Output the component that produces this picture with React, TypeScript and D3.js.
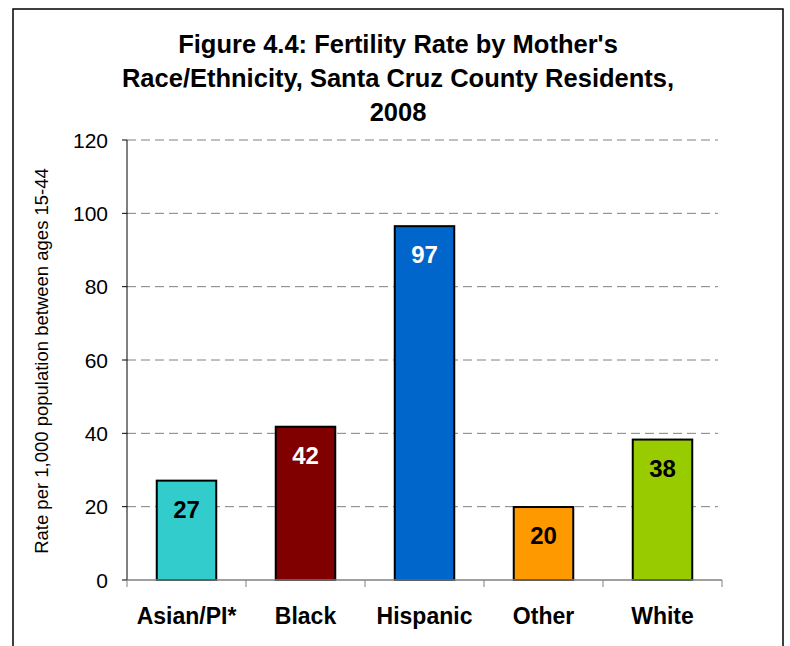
import React from 'react';
import * as d3 from 'd3';

const categories = ['Asian/PI*', 'Black', 'Hispanic', 'Other', 'White'];
const rates = [27.1, 41.8, 96.5, 19.9, 38.3];
const rateLabels = ['27', '42', '97', '20', '38'];
const barColors = ['#33CCCC', '#800000', '#0066CC', '#FF9900', '#99CC00'];
const labelColors = ['#000', '#fff', '#fff', '#000', '#000'];
const yTicks = [0, 20, 40, 60, 80, 100, 120];
const titleLines = [
  "Figure 4.4: Fertility Rate by Mother's",
  'Race/Ethnicity, Santa Cruz County Residents,',
  '2008',
];

const W = 790;
const H = 646;
const font = 'Arial, "Liberation Sans", Helvetica, sans-serif';

export default function App() {
  const margin = { top: 140, right: 68, bottom: 66, left: 127 };

  const x = d3.scaleBand<string>()
    .domain(categories)
    .range([margin.left, W - margin.right])
    .paddingInner(0.5)
    .paddingOuter(0.25);

  const y = d3.scaleLinear()
    .domain([0, 120])
    .range([H - margin.bottom, margin.top]);

  const [x0, x1] = x.range();
  const boundaries = d3.range(categories.length + 1).map(i => x0 + i * x.step());

  return (
    <svg
      width={W}
      height={H}
      style={{ position: 'absolute', left: 0, top: 0, background: '#fff' }}
      fontFamily={font}
    >
      {/* chart border */}
      <rect x={13} y={9} width={770} height={700} fill="none" stroke="#000" strokeWidth={1.5} />

      {/* title */}
      {titleLines.map((t, i) => (
        <text
          key={i}
          x={398}
          y={53 + i * 34}
          textAnchor="middle"
          fontSize={25.5}
          fontWeight="bold"
        >
          {t}
        </text>
      ))}

      {/* gridlines */}
      {yTicks.filter(v => v > 0).map(v => (
        <line
          key={v}
          x1={x0}
          x2={x1 - 4}
          y1={y(v)}
          y2={y(v)}
          stroke="#808080"
          strokeWidth={1}
          strokeDasharray="9,5"
        />
      ))}

      {/* bars */}
      {categories.map((c, i) => (
        <g key={c}>
          <rect
            x={x(c)}
            y={y(rates[i])}
            width={x.bandwidth()}
            height={y(0) - y(rates[i])}
            fill={barColors[i]}
            stroke="#000"
            strokeWidth={2}
          />
          <text
            x={x(c)! + x.bandwidth() / 2}
            y={y(rates[i]) + 37}
            textAnchor="middle"
            fontSize={24}
            fontWeight="bold"
            fill={labelColors[i]}
          >
            {rateLabels[i]}
          </text>
        </g>
      ))}

      {/* y axis */}
      <line x1={x0} x2={x0} y1={y(120)} y2={y(0)} stroke="#000" strokeWidth={1} />
      {yTicks.map(v => (
        <g key={v}>
          <line x1={x0 - 5} x2={x0} y1={y(v)} y2={y(v)} stroke="#000" strokeWidth={1} />
          <text x={108} y={y(v)} dy="0.36em" textAnchor="end" fontSize={21}>
            {v}
          </text>
        </g>
      ))}

      {/* x axis */}
      <line x1={x0} x2={x1} y1={y(0)} y2={y(0)} stroke="#808080" strokeWidth={1.5} />
      {boundaries.map((b, i) => (
        <line key={i} x1={b} x2={b} y1={y(0)} y2={y(0) + 7} stroke="#808080" strokeWidth={1} />
      ))}
      {categories.map(c => (
        <text
          key={c}
          x={x(c)! + x.bandwidth() / 2}
          y={624}
          textAnchor="middle"
          fontSize={23}
          fontWeight="bold"
        >
          {c}
        </text>
      ))}

      {/* y axis title */}
      <text
        transform="translate(48,361) rotate(-90)"
        textAnchor="middle"
        fontSize={18.5}
      >
        Rate per 1,000 population between ages 15-44
      </text>
    </svg>
  );
}
